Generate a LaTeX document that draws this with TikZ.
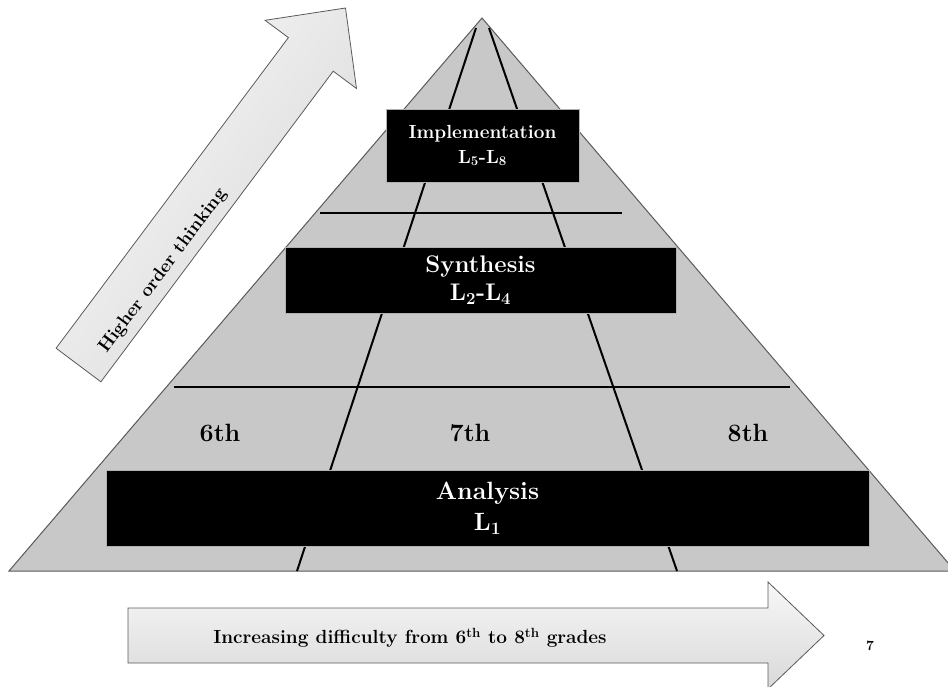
\documentclass[tikz,border=0pt]{standalone}
\usepackage{fontspec}
\definecolor{pyrgray}{RGB}{200,200,200}
\definecolor{edgegray}{RGB}{90,90,90}
\begin{document}
\begin{tikzpicture}[x=1pt,y=-1pt,
  divline/.style={line width=2pt, black},
  lvlbox/.style={fill=black, draw=gray!60, line width=0.8pt, inner sep=0pt,
    text=white, align=center},
  gradelbl/.style={font=\bfseries\fontsize{25}{28}\selectfont},
  bigarrow/.style={draw=edgegray, line width=0.8pt, shading=axis,
    top color=gray!6, bottom color=gray!30},
]
\useasboundingbox (0,0) rectangle (948,686);
\clip (0,0) rectangle (948,686);

% pyramid
\coordinate (apex) at (482,18);
\coordinate (bl) at (9,571);
\coordinate (br) at (955,571);
\path[fill=pyrgray, draw=edgegray, line width=1pt] (apex) -- (bl) -- (br) -- cycle;

% dividing lines
\coordinate (lt) at (476,28);
\coordinate (lb) at (297,571);
\coordinate (rt) at (489,28);
\coordinate (rb) at (677,571);
\draw[divline] (lt) -- (lb);
\draw[divline] (rt) -- (rb);
\coordinate (h1a) at (320,213);
\coordinate (h1b) at (622,213);
\coordinate (h2a) at (174,387);
\coordinate (h2b) at (790,387);
\draw[divline] (h1a) -- (h1b);
\draw[divline] (h2a) -- (h2b);

% level boxes
\node[lvlbox, minimum width=193pt, minimum height=73pt,
  font=\bfseries\fontsize{19}{25}\selectfont] (impl) at (482.5,145.5)
  {Implementation\\L\textsubscript{5}-L\textsubscript{8}};
\node[lvlbox, minimum width=391pt, minimum height=66pt,
  font=\bfseries\fontsize{24}{28}\selectfont] (synth) at (480.5,280)
  {Synthesis\\L\textsubscript{2}-L\textsubscript{4}};
\node[lvlbox, minimum width=763pt, minimum height=76pt,
  font=\bfseries\fontsize{25}{31}\selectfont] (anal) at (487.5,508)
  {Analysis\\L\textsubscript{1}};

% grade labels
\node[gradelbl] (g6) at (220,433) {6th};
\node[gradelbl] (g7) at (470,433) {7th};
\node[gradelbl] (g8) at (748,433) {8th};

% diagonal arrow
\coordinate (d1) at (56.1,348.2);
\coordinate (d2) at (288.4,37.6);
\coordinate (d3) at (265.1,20.3);
\coordinate (d4) at (345.5,8);
\coordinate (d5) at (356.5,88.5);
\coordinate (d6) at (333.2,71.2);
\coordinate (d7) at (100.9,381.8);
\path[bigarrow, shading angle=53] (d1) -- (d2) -- (d3) -- (d4) -- (d5) -- (d6) -- (d7) -- cycle;
\node[rotate=53.2, font=\bfseries\fontsize{18.5}{20}\selectfont] (hot) at (163,271) {Higher order thinking};

% bottom arrow
\coordinate (b1) at (128,608);
\coordinate (b2) at (768,608);
\coordinate (b3) at (768,582);
\coordinate (b4) at (824,635.5);
\coordinate (b5) at (768,689);
\coordinate (b6) at (768,663);
\coordinate (b7) at (128,663);
\path[bigarrow] (b1) -- (b2) -- (b3) -- (b4) -- (b5) -- (b6) -- (b7) -- cycle;
\node[font=\bfseries\fontsize{19}{22}\selectfont] (diff) at (410,638)
  {Increasing difficulty from 6\textsuperscript{th} to 8\textsuperscript{th} grades};
\node[font=\bfseries\fontsize{14}{16}\selectfont] (pg) at (870,646) {7};
\end{tikzpicture}
\end{document}
